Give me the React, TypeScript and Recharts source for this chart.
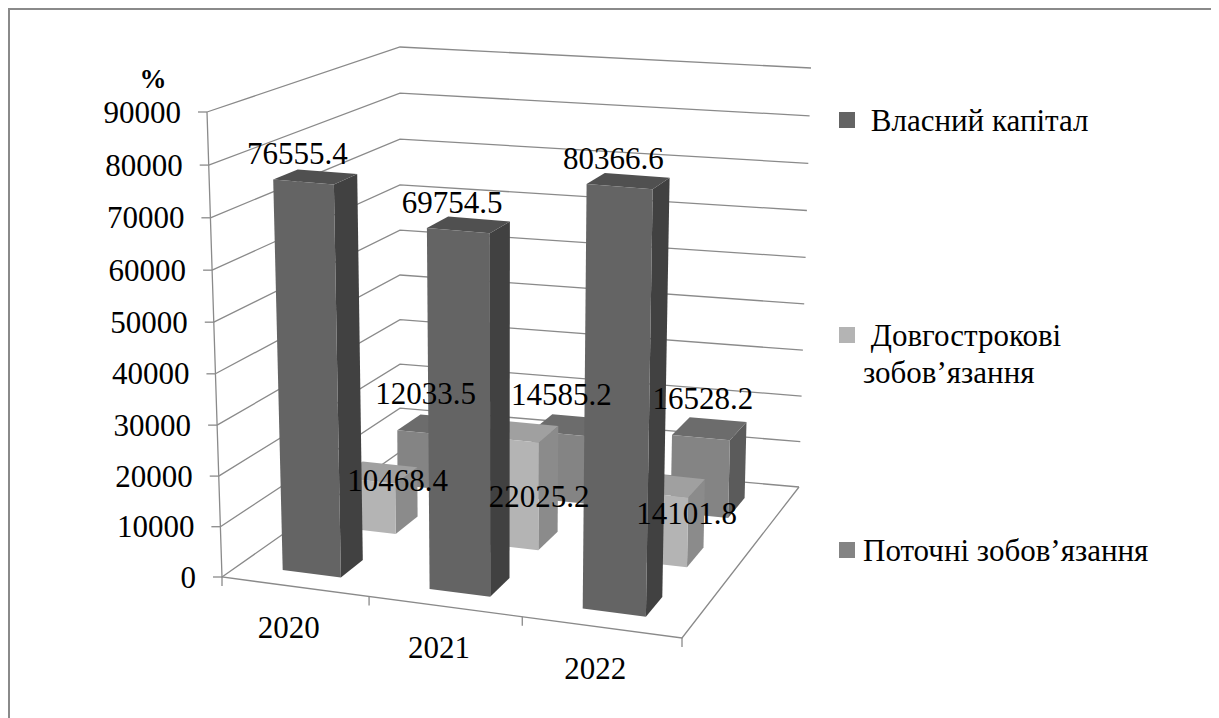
import { ComposedChart, Bar, Scatter, XAxis, YAxis, CartesianGrid, Customized } from "recharts";

const years = ["2020", "2021", "2022"];
const equity = [76555.4, 69754.5, 80366.6];
const longTermDebt = [10468.4, 22025.2, 14101.8];
const currentDebt = [12033.5, 14585.2, 16528.2];
const valueTicks = [0, 10000, 20000, 30000, 40000, 50000, 60000, 70000, 80000, 90000];

const data = years.map((year, i) => ({
  year,
  equity: equity[i],
  longTerm: longTermDebt[i],
  current: currentDebt[i],
}));

// chart box inside the framed card
const W = 1206;
const H = 716;
// axes get 1px so recharts still renders their ticks; the plot starts right after them
const PL = 1;
const PW = W - PL;
const PH = H - 1;
const ORIGIN = 10; // page offset of the svg (body margin + border)
const FONT = "Liberation Serif, DejaVu Serif, Times New Roman, serif";
const GRID = "#8a8a8a";

type Pt = [number, number];

// corners of the 3D box on the page, [u][w]: floor is value 0, ceiling is the axis max
const FLOOR: Pt[][] = [
  [[222, 577], [400, 452]],
  [[682, 638], [799, 487]],
];
const CEIL: Pt[][] = [
  [[207, 112], [400, 47]],
  [[692, 148], [811, 68]],
];

// cheap perspective foreshortening along one axis
const persp = (t: number, r: number) => (r * t) / (1 + (r - 1) * t);

function bilerp(c: Pt[][], u: number, w: number): Pt {
  const k00 = (1 - u) * (1 - w), k10 = u * (1 - w), k01 = (1 - u) * w, k11 = u * w;
  return [
    k00 * c[0][0][0] + k10 * c[1][0][0] + k01 * c[0][1][0] + k11 * c[1][1][0],
    k00 * c[0][0][1] + k10 * c[1][0][1] + k01 * c[0][1][1] + k11 * c[1][1][1],
  ];
}

// u: along categories, v: along values, w: depth (0 front, 1 back)
function proj(u: number, v: number, w: number): Pt {
  const uu = persp(u, 0.94);
  const vv = persp(v, 0.97);
  const f = bilerp(FLOOR, uu, w);
  const c = bilerp(CEIL, uu, w);
  return [f[0] + (c[0] - f[0]) * vv - ORIGIN, f[1] + (c[1] - f[1]) * vv - ORIGIN];
}

const toU = (x: number) => (x - PL) / PW;
const toV = (y: number) => (PH - y) / PH;

const pts = (list: Pt[]) => list.map((p) => `${p[0].toFixed(1)},${p[1].toFixed(1)}`).join(" ");

type Series = {
  key: string;
  name: string;
  row: number;
  axis: string;
  front: string;
  top: string;
  side: string;
  labelAtBase: boolean;
  labelDx: number;
  labelDy: number;
};

// drawn back to front
const series: Series[] = [
  { key: "current", name: "Поточні зобов’язання", row: 2, axis: "back", front: "#848484", top: "#6c6c6c", side: "#5b5b5b", labelAtBase: false, labelDx: 2, labelDy: -39 },
  { key: "longTerm", name: " Довгострокові зобов’язання", row: 1, axis: "mid", front: "#b4b4b4", top: "#a0a0a0", side: "#8b8b8b", labelAtBase: true, labelDx: 30, labelDy: -50 },
  { key: "equity", name: " Власний капітал", row: 0, axis: "front", front: "#646464", top: "#505050", side: "#414141", labelAtBase: false, labelDx: -6, labelDy: -28 },
];
const ROWS = series.length;
const depth = (row: number): [number, number] => [(row + 0.3) / ROWS, (row + 0.7) / ROWS];

function Prism(props: any, s: Series) {
  const { x, y, width, height } = props;
  const u0 = toU(x);
  const u1 = toU(x + width);
  const vTop = toV(y);
  const vBase = toV(y + height);
  const [w0, w1] = depth(s.row);
  const front = [proj(u0, vBase, w0), proj(u1, vBase, w0), proj(u1, vTop, w0), proj(u0, vTop, w0)];
  const side = [proj(u1, vBase, w0), proj(u1, vBase, w1), proj(u1, vTop, w1), proj(u1, vTop, w0)];
  const top = [proj(u0, vTop, w0), proj(u1, vTop, w0), proj(u1, vTop, w1), proj(u0, vTop, w1)];
  return (
    <g>
      <polygon points={pts(side)} fill={s.side} />
      <polygon points={pts(top)} fill={s.top} />
      <polygon points={pts(front)} fill={s.front} />
    </g>
  );
}

function ValueLabel(props: any, s: Series) {
  const { cx, cy, payload } = props;
  const u = toU(cx);
  const v = toV(cy);
  const [w0] = depth(s.row);
  const p = s.labelAtBase ? proj(u, 0, w0) : proj(u, v, w0);
  return (
    <text
      x={p[0] + s.labelDx}
      y={p[1] + s.labelDy}
      textAnchor="middle"
      dominantBaseline="central"
      fontFamily={FONT}
      fontSize={31}
      fill="#000"
    >
      {payload[s.key]}
    </text>
  );
}

function GridLine(props: any) {
  const v = toV(props.y1);
  const line = [proj(0, v, 0), proj(0, v, 1), proj(1, v, 1)];
  return <polyline key={props.key ?? `g-${props.index}`} points={pts(line)} fill="none" stroke={GRID} strokeWidth={1.3} />;
}

function ValueTick(props: any) {
  const { y, payload } = props;
  const p = proj(0, toV(y), 0);
  return (
    <g>
      <line x1={p[0] - 9} y1={p[1]} x2={p[0]} y2={p[1]} stroke={GRID} strokeWidth={1.3} />
      <text x={p[0] - 26} y={p[1]} textAnchor="end" dominantBaseline="central" fontFamily={FONT} fontSize={31} fill="#000">
        {payload.value}
      </text>
    </g>
  );
}

function YearTick(props: any) {
  const { x, payload, index } = props;
  const band = PW / years.length;
  const p = proj(toU(x), 0, 0);
  const edges = [toU(x - band / 2)];
  if (index === years.length - 1) edges.push(toU(x + band / 2));
  return (
    <g>
      {edges.map((e) => {
        const q = proj(e, 0, 0);
        return <line key={e} x1={q[0]} y1={q[1]} x2={q[0]} y2={q[1] + 9} stroke={GRID} strokeWidth={1.3} />;
      })}
      <text x={p[0] - 6} y={p[1] + 41} textAnchor="middle" dominantBaseline="central" fontFamily={FONT} fontSize={31} fill="#000">
        {payload.value}
      </text>
    </g>
  );
}

function Frame() {
  const a = proj(0, 0, 0);
  const b = proj(0, 1, 0);
  const c = proj(1, 0, 0);
  const d = proj(1, 0, 1);
  return (
    <g>
      <polyline points={pts([b, a, c, d])} fill="none" stroke={GRID} strokeWidth={1.3} />
      <text x={153 - ORIGIN} y={79 - ORIGIN} textAnchor="middle" dominantBaseline="central" fontFamily={FONT} fontSize={27} fontWeight="bold">
        %
      </text>
    </g>
  );
}

const legendItems = [
  { s: series[2], top: 120, lines: [" Власний капітал"] },
  { s: series[1], top: 335, lines: [" Довгострокові", "зобов’язання"] },
  { s: series[0], top: 550, lines: ["Поточні зобов’язання"] },
];

export default function App() {
  return (
    <div
      style={{
        position: "relative",
        width: 1210,
        height: 720,
        boxSizing: "border-box",
        border: "2px solid #8a8a8a",
        background: "#fff",
        fontFamily: FONT,
      }}
    >
      <style>{"html,body{overflow:hidden}"}</style>
      <ComposedChart width={W} height={H} data={data} margin={{ top: 0, right: 0, bottom: 0, left: 0 }} barCategoryGap="30%">
        <XAxis xAxisId="front" dataKey="year" height={1} axisLine={false} tickLine={false} tick={YearTick} interval={0} />
        <XAxis xAxisId="mid" dataKey="year" hide />
        <XAxis xAxisId="back" dataKey="year" hide />
        <YAxis domain={[0, 90000]} ticks={valueTicks} width={1} axisLine={false} tickLine={false} tick={ValueTick} interval={0} />
        <CartesianGrid xAxisId="front" vertical={false} horizontal={GridLine} />
        <Customized component={Frame} />
        {series.map((s) => (
          <Bar
            key={s.key}
            dataKey={s.key}
            xAxisId={s.axis}
            isAnimationActive={false}
            shape={(p: any) => Prism(p, s)}
          />
        ))}
        {series.map((s) => (
          <Scatter
            key={`lbl-${s.key}`}
            dataKey={s.key}
            xAxisId={s.axis}
            isAnimationActive={false}
            shape={(p: any) => ValueLabel(p, s)}
          />
        ))}
      </ComposedChart>
      {legendItems.map(({ s, top, lines }) => (
        <div key={s.key}>
          <div
            style={{
              position: "absolute",
              left: 839 - ORIGIN,
              top: top - 8 - ORIGIN,
              width: 16,
              height: 16,
              background: s.front,
            }}
          />
          <div
            style={{
              position: "absolute",
              left: 863 - ORIGIN,
              top: top - 18.5 - ORIGIN,
              fontFamily: FONT,
              fontSize: 31,
              lineHeight: "37px",
              whiteSpace: "pre",
              color: "#000",
            }}
          >
            {lines.map((l) => (
              <div key={l}>{l}</div>
            ))}
          </div>
        </div>
      ))}
    </div>
  );
}
